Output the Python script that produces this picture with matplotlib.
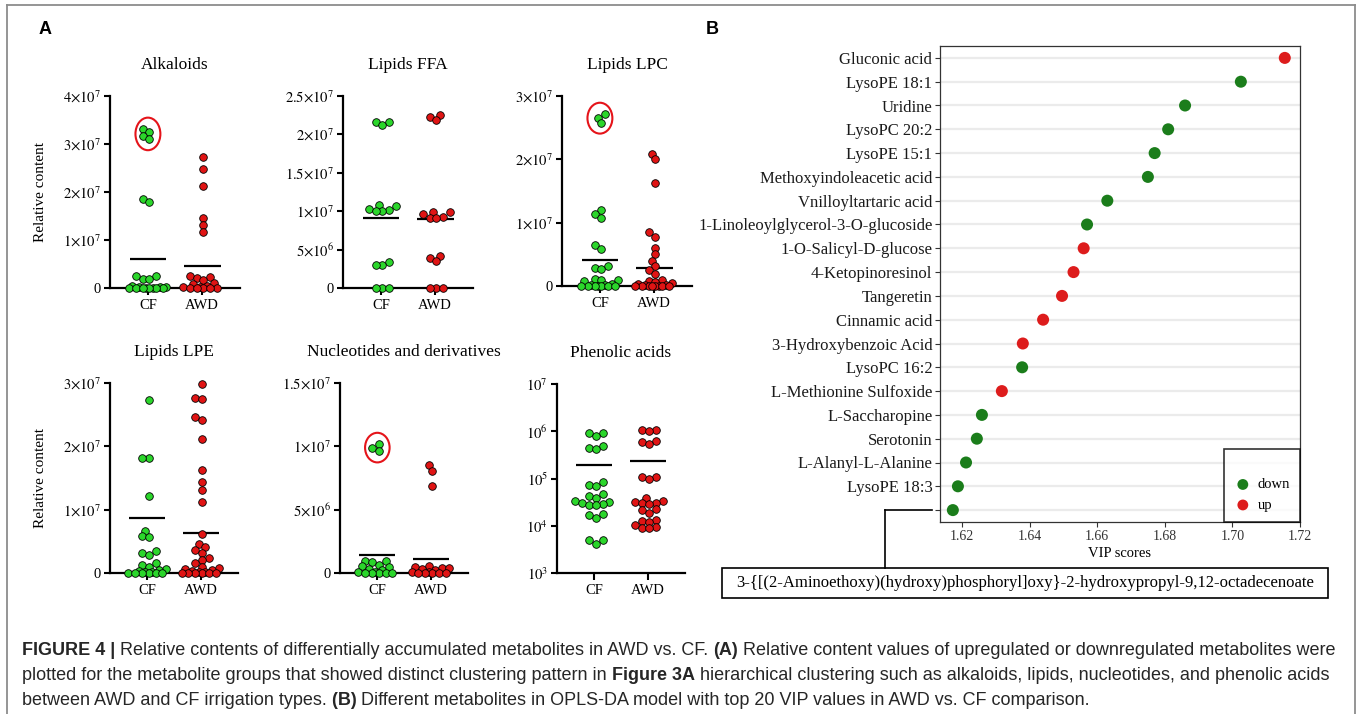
import numpy as np
import matplotlib
matplotlib.use('Agg')
import matplotlib.pyplot as plt
from matplotlib.patches import Ellipse, Rectangle
from matplotlib.lines import Line2D
from matplotlib.ticker import FixedLocator, FuncFormatter, NullLocator

W, H = 1358, 714

plt.rcParams['font.family'] = ['Liberation Serif', 'DejaVu Serif']
plt.rcParams['mathtext.fontset'] = 'stix'

# ---------------- panel A data ----------------
groups = ['CF', 'AWD']

alk_cf = [3.32e7, 3.25e7, 3.17e7, 3.10e7, 1.85e7, 1.80e7, 2.6e6, 2.4e6, 1.9e6, 1.8e6,
          4e5, 3e5, 2e5, 1.5e5, 1e5, 8e4, 5e4, 3e4, 2e4, 1e4, 0, 0]
alk_awd = [2.73e7, 2.48e7, 2.13e7, 1.46e7, 1.31e7, 1.16e7, 2.4e6, 2.3e6, 2.0e6, 1.6e6,
           1.0e6, 8e5, 4e5, 3e5, 2e5, 1e5, 5e4, 0, 0, 0]
alk_mean = [6.1e6, 4.6e6]

ffa_cf = [2.16e7, 2.16e7, 2.12e7, 1.08e7, 1.065e7, 1.035e7, 1.01e7, 1.005e7, 1.005e7,
          3.4e6, 3.0e6, 3.0e6, 0, 0, 0]
ffa_awd = [2.255e7, 2.23e7, 2.19e7, 9.85e6, 9.85e6, 9.7e6, 9.3e6, 9.15e6, 9.1e6,
           4.15e6, 3.85e6, 3.5e6, 0, 0, 0]
ffa_mean = [9.1e6, 9.0e6]

lpc_cf = [2.72e7, 2.66e7, 2.58e7, 1.2e7, 1.14e7, 1.08e7, 6.5e6, 5.9e6, 3.2e6, 2.9e6, 2.7e6,
          1.1e6, 1.0e6, 9e5, 8e5, 3e5, 2e5, 1e5, 5e4, 0, 0, 0, 0, 0, 0]
lpc_awd = [2.08e7, 2.0e7, 1.63e7, 8.5e6, 7.8e6, 6.0e6, 5.0e6, 4.0e6, 3.2e6, 2.5e6, 1.9e6,
           1.0e6, 8e5, 6e5, 5e5, 3e5, 2e5, 1e5, 5e4, 0, 0, 0, 0, 0, 0, 0]
lpc_mean = [4.1e6, 2.8e6]

lpe_cf = [2.73e7, 1.81e7, 1.81e7, 1.21e7, 6.6e6, 5.8e6, 5.7e6, 3.4e6, 3.2e6, 2.9e6, 1.6e6,
          1.3e6, 1.0e6, 6e5, 5e5, 3e5, 2e5, 1e5, 5e4, 0, 0, 0, 0, 0]
lpe_awd = [2.99e7, 2.77e7, 2.75e7, 2.46e7, 2.42e7, 2.12e7, 1.62e7, 1.44e7, 1.31e7, 1.12e7,
           6.1e6, 4.6e6, 4.1e6, 3.7e6, 3.2e6, 2.4e6, 2.0e6, 1.6e6, 1.0e6, 8e5, 6e5, 5e5,
           3e5, 2e5, 1e5, 0, 0, 0, 0, 0, 0]
lpe_mean = [8.7e6, 6.3e6]

nuc_cf = [1.02e7, 9.9e6, 9.6e6, 9.5e5, 9.3e5, 8.5e5, 6.5e5, 5.5e5, 4.5e5, 3e5, 2e5, 1e5,
          5e4, 0, 0, 0, 0, 0]
nuc_awd = [8.5e6, 8.05e6, 6.9e6, 5.5e5, 4.5e5, 4e5, 4e5, 3.5e5, 2e5, 1e5, 5e4, 0, 0, 0, 0, 0]
nuc_mean = [1.45e6, 1.12e6]

phe_cf = [9.3e5, 9.0e5, 7.8e5, 4.8e5, 4.5e5, 4.3e5, 8.5e4, 7.3e4, 7.0e4, 4.6e4, 4.2e4,
          3.8e4, 3.3e4, 3.2e4, 3.1e4, 2.9e4, 2.8e4, 2.7e4, 1.75e4, 1.7e4, 1.45e4,
          5.1e3, 4.9e3, 4.1e3]
phe_awd = [1.08e6, 1.05e6, 1.0e6, 6.2e5, 6.0e5, 5.5e5, 1.1e5, 1.05e5, 9.8e4, 3.8e4, 3.4e4,
           3.2e4, 3.1e4, 3.0e4, 2.9e4, 2.3e4, 2.2e4, 1.9e4, 1.3e4, 1.25e4, 1.2e4, 1.05e4,
           9.5e3, 9e3, 8.8e3]
phe_mean = [1.95e5, 2.3e5]

# ---------------- panel B data ----------------
metabolites = ["Gluconic acid", "LysoPE 18:1", "Uridine", "LysoPC 20:2", "LysoPE 15:1",
               "Methoxyindoleacetic acid", "Vnilloyltartaric acid",
               "1-Linoleoylglycerol-3-O-glucoside", "1-O-Salicyl-D-glucose",
               "4-Ketopinoresinol", "Tangeretin", "Cinnamic acid", "3-Hydroxybenzoic Acid",
               "LysoPC 16:2", "L-Methionine Sulfoxide", "L-Saccharopine", "Serotonin",
               "L-Alanyl-L-Alanine", "LysoPE 18:3",
               "3-{[(2-Aminoethoxy)(hydroxy)phosphoryl]oxy}-2-hydroxypropyl-9,12-octadecenoate"]
vip = [1.7155, 1.7025, 1.686, 1.681, 1.677, 1.675, 1.663, 1.657, 1.656, 1.653, 1.6496,
       1.644, 1.638, 1.6378, 1.6318, 1.6259, 1.6244, 1.6212, 1.6188, 1.6173]
regulation = ['up', 'down', 'down', 'down', 'down', 'down', 'down', 'down', 'up', 'up',
              'up', 'up', 'up', 'down', 'up', 'down', 'down', 'down', 'down', 'down']

GREEN_A, RED_A = '#2bd62b', '#e01414'
GREEN_B, RED_B = '#1b7d1b', '#dd1c1c'


def px_box(l, t, r, b):
    return [l / W, 1 - b / H, (r - l) / W, (b - t) / H]


def sci_label(v, pos=None):
    if v == 0:
        return '0'
    e = int(np.floor(np.log10(v) + 1e-9))
    m = v / 10 ** e
    ms = ('%g' % m)
    return r'$%s{\times}10^{%d}$' % (ms, e)


def pow_label(v, pos=None):
    return r'$10^{%d}$' % int(round(np.log10(v)))


def swarm(ax, values, x0, d, half):
    # simple beeswarm in pixel space, limited to +-half pixels
    vals = np.asarray(values, float)
    pts = ax.transData.transform(np.column_stack([np.full(len(vals), x0), vals]))
    ypx = pts[:, 1]
    ppu = ax.transData.transform((1, 0))[0] - ax.transData.transform((0, 0))[0]
    cands = np.arange(-half, half + 0.01, d / 2)
    cands = cands[np.argsort(np.abs(cands), kind='stable')]
    placed = []
    xs = np.zeros(len(vals))
    for i in np.argsort(ypx, kind='stable'):
        y = ypx[i]
        best, bestd = None, -1
        for c in cands:
            md = min([np.hypot(c - px, y - py) for px, py in placed] + [99])
            if md >= 0.85 * d:
                best = c
                break
            if md > bestd + 0.01:
                bestd, alt = md, c
        if best is None:
            best = alt
        placed.append((best, y))
        xs[i] = x0 + best / ppu
    return xs


fig = plt.figure(figsize=(W / 100, H / 100), dpi=100)

panels = [
    ('Alkaloids', alk_cf, alk_awd, alk_mean, [0, 1e7, 2e7, 3e7, 4e7], False, 4, (110, 96, 240, 288), True),
    ('Lipids FFA', ffa_cf, ffa_awd, ffa_mean, [0, 5e6, 1e7, 1.5e7, 2e7, 2.5e7], False, 0, (343, 96, 473, 288), False),
    ('Lipids LPC', lpc_cf, lpc_awd, lpc_mean, [0, 1e7, 2e7, 3e7], False, 3, (562, 96, 692, 286), False),
    ('Lipids LPE', lpe_cf, lpe_awd, lpe_mean, [0, 1e7, 2e7, 3e7], False, 0, (110, 383, 238, 573), True),
    ('Nucleotides and derivatives', nuc_cf, nuc_awd, nuc_mean, [0, 5e6, 1e7, 1.5e7], False, 3, (340, 383, 468, 573), False),
    ('Phenolic acids', phe_cf, phe_awd, phe_mean, [1e3, 1e4, 1e5, 1e6, 1e7], True, 0, (557, 384, 685, 573), False),
]

for title, cf, awd, means, ticks, logy, ncirc, box, ylab in panels:
    ax = fig.add_axes(px_box(*box))
    if logy:
        ax.set_yscale('log')
    ax.set_xlim(-0.7, 1.7)
    ax.set_ylim(ticks[0], ticks[-1])
    ax.yaxis.set_major_locator(FixedLocator(ticks))
    ax.yaxis.set_minor_locator(NullLocator())
    ax.yaxis.set_major_formatter(FuncFormatter(pow_label if logy else sci_label))
    ax.set_xticks([0, 1])
    ax.set_xticklabels(groups, fontsize=11)
    ax.tick_params(axis='both', width=1.5, length=4.5, direction='out', labelsize=10.5, pad=2)
    ax.tick_params(axis='x', length=5, pad=3)
    for s in ['top', 'right']:
        ax.spines[s].set_visible(False)
    for s in ['left', 'bottom']:
        ax.spines[s].set_linewidth(1.6)
    for gi, (vals, col) in enumerate([(cf, GREEN_A), (awd, RED_A)]):
        xs = swarm(ax, vals, gi, 6.8, 19)
        ax.scatter(xs, vals, s=30, color=col, edgecolors='black', linewidths=0.6,
                   zorder=5, clip_on=False)
        ax.hlines(means[gi], gi - 0.34, gi + 0.34, color='black', lw=1.6, zorder=4)
    if ncirc:
        top = sorted(cf)[-ncirc:]
        hpx = ax.get_position().height * H
        upp = (ticks[-1] - ticks[0]) / hpx
        ax.add_patch(Ellipse((0, (top[0] + top[-1]) / 2), 0.46,
                             (top[-1] - top[0]) + 22 * upp,
                             fill=False, ec='#e5141a', lw=1.5, zorder=6))
    bw = box[2] - box[0]
    ax.text(0.5, 1 + 31 / (box[3] - box[1]), title, transform=ax.transAxes,
            ha='center', va='center', fontsize=12.5)
    if ylab:
        ax.set_ylabel('Relative content', fontsize=11)
        ax.yaxis.set_label_coords((47 - box[0]) / bw, 0.5)

# ---------------- panel B ----------------
axb = fig.add_axes(px_box(940, 46, 1300, 522))
n = len(metabolites)
ypos = np.arange(n)
for reg, col in [('down', GREEN_B), ('up', RED_B)]:
    idx = [i for i in range(n) if regulation[i] == reg]
    axb.scatter([vip[i] for i in idx], ypos[idx], s=75, color=col, zorder=3, label=reg,
                edgecolors='none')
axb.set_ylim(n - 0.5, -0.5)
axb.set_xlim(1.6135, 1.72)
axb.set_yticks(ypos)
axb.set_yticklabels(metabolites[:-1] + [''], fontsize=12, color='#1a1a1a')
axb.set_xticks([1.62, 1.64, 1.66, 1.68, 1.70, 1.72])
axb.set_xticklabels(['%.2f' % v for v in [1.62, 1.64, 1.66, 1.68, 1.70, 1.72]],
                    fontsize=10, color='#333333')
axb.yaxis.grid(True, color='#ebebeb', lw=1.6)
axb.set_axisbelow(True)
axb.tick_params(axis='both', color='#333333', length=3.5, width=0.8, pad=2)
for s in axb.spines.values():
    s.set_color('#333333')
    s.set_linewidth(0.9)
axb.set_xlabel('VIP scores', fontsize=10.5, labelpad=3)
leg = axb.legend(loc='lower right', title=' ', title_fontsize=9, fontsize=10.5,
                 frameon=True, fancybox=False, edgecolor='black', borderaxespad=0,
                 handletextpad=0.4, handlelength=1.2, borderpad=0.7, markerscale=0.9,
                 labelspacing=0.5)
leg.get_frame().set_linewidth(1.2)

# callout for the last (long) name
ylast = H - axb.transData.transform((1.62, n - 1))[1]
lc = 'black'
fig.add_artist(Line2D([932 / W, 885 / W], [1 - ylast / H, 1 - ylast / H], color=lc, lw=1.2))
fig.add_artist(Line2D([885 / W, 885 / W], [1 - ylast / H, 1 - 568 / H], color=lc, lw=1.2))
fig.add_artist(Rectangle((722 / W, 1 - 598 / H), (1328 - 722) / W, 30 / H,
                         transform=fig.transFigure, fill=False, ec='black', lw=1.2))
fig.text(1025 / W, 1 - 583 / H, metabolites[-1], ha='center', va='center', fontsize=12)

# panel letters
fig.text(45 / W, 1 - 30 / H, 'A', fontsize=13, fontweight='bold',
         family=['Liberation Sans', 'DejaVu Sans'], ha='center', va='center')
fig.text(712 / W, 1 - 30 / H, 'B', fontsize=13, fontweight='bold',
         family=['Liberation Sans', 'DejaVu Sans'], ha='center', va='center')

# outer frame
fc = '#8c8c8c'
fig.add_artist(Line2D([7 / W, 1355 / W], [1 - 5 / H, 1 - 5 / H], color=fc, lw=1.3))
fig.add_artist(Line2D([7 / W, 7 / W], [1 - 5 / H, 0], color=fc, lw=1.3))
fig.add_artist(Line2D([1355 / W, 1355 / W], [1 - 5 / H, 0], color=fc, lw=1.3))

# caption
cap_lines = [
    [('FIGURE 4 |', True), (' Relative contents of differentially accumulated metabolites in AWD vs. CF. ', False),
     ('(A)', True), (' Relative content values of upregulated or downregulated metabolites were', False)],
    [('plotted for the metabolite groups that showed distinct clustering pattern in ', False),
     ('Figure 3A', True), (' hierarchical clustering such as alkaloids, lipids, nucleotides, and phenolic acids', False)],
    [('between AWD and CF irrigation types.', False), (' (B)', True),
     (' Different metabolites in OPLS-DA model with top 20 VIP values in AWD vs. CF comparison.', False)],
]
cap_font = ['Liberation Sans Narrow', 'Liberation Sans', 'DejaVu Sans']
renderer = fig.canvas.get_renderer()


def draw_line(parts, x0, ybase, size):
    x = x0
    arts = []
    for txt, bold in parts:
        t = fig.text(x / W, 1 - ybase / H, txt, fontsize=size, family=cap_font,
                     fontweight='bold' if bold else 'normal', color='#262626', va='baseline')
        x = t.get_window_extent(renderer).x1
        arts.append(t)
    return x, arts


end, arts = draw_line(cap_lines[0], 22, 655, 12)
size = 12 * (1335 - 22) / (end - 22)
for a in arts:
    a.remove()
for k, parts in enumerate(cap_lines):
    draw_line(parts, 22, 655 + 25 * k, size)

fig.savefig('out.png', dpi=100)
